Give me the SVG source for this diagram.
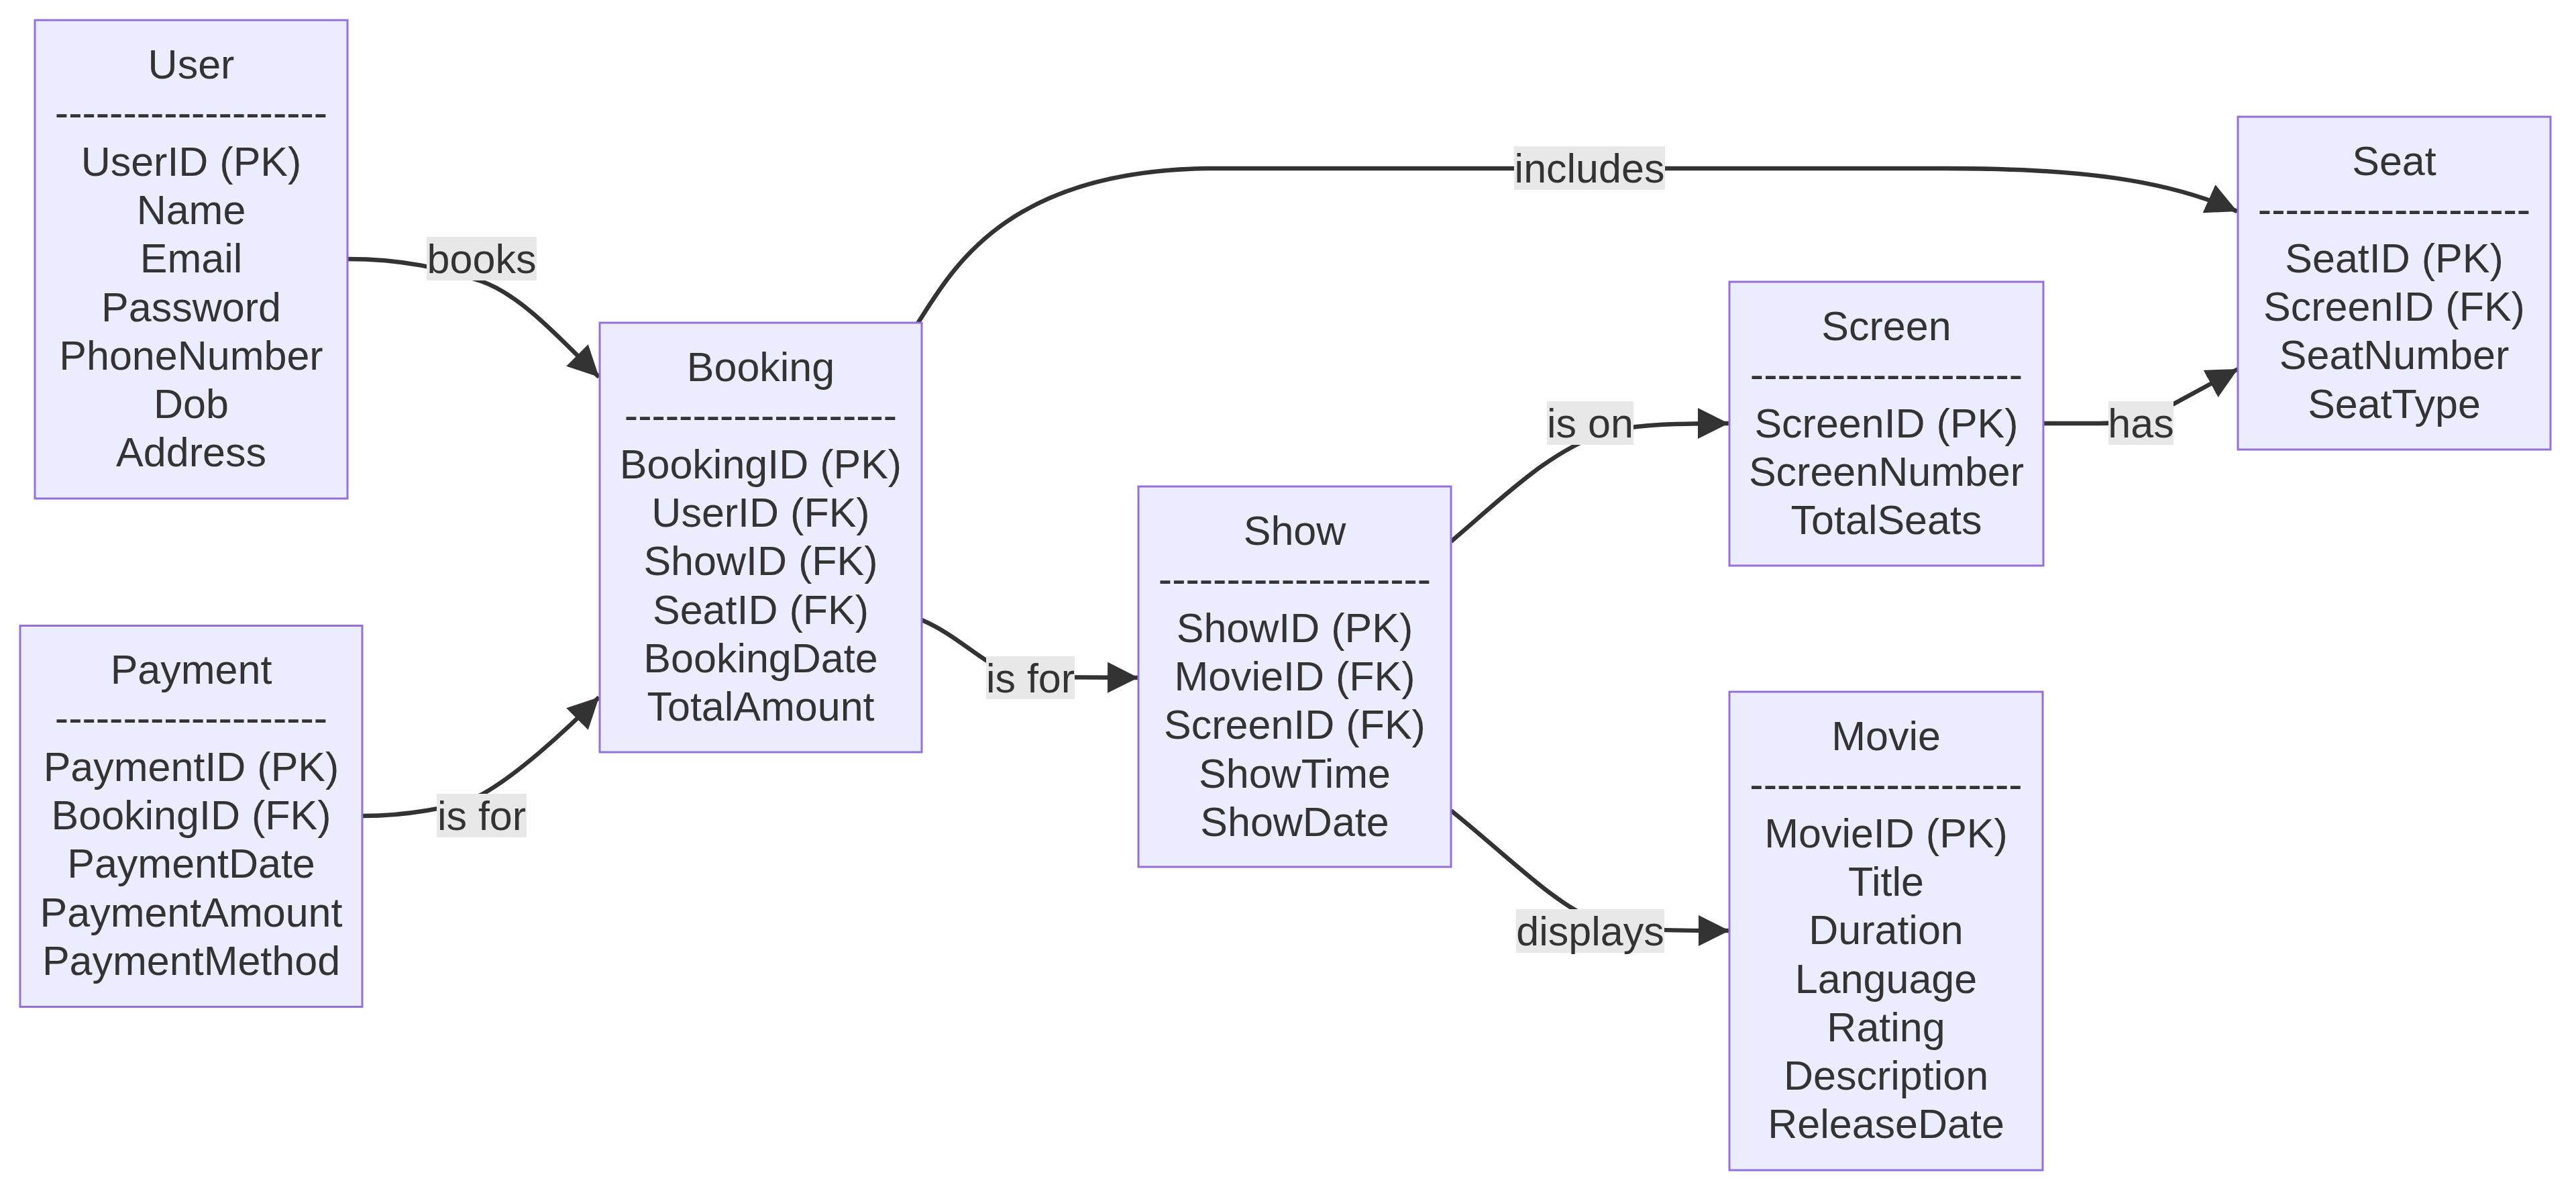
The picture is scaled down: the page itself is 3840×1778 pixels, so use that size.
<svg xmlns="http://www.w3.org/2000/svg" width="3840" height="1778" viewBox="0 0 3840 1778">
<style>
.box{fill:#ECECFF;stroke:#9370DB;stroke-width:3}
.t{font-family:"Liberation Sans",Arial,Helvetica,sans-serif;font-size:61px;fill:#333;text-anchor:middle}
.edge{fill:none;stroke:#333;stroke-width:6.5}
.lbl{fill:#e8e8e8}
</style>
<defs>
<marker id="arrow" viewBox="0 0 10 10" refX="10" refY="5" markerUnits="userSpaceOnUse" markerWidth="46" markerHeight="46" orient="auto">
<path d="M0,0 L10,5 L0,10 z" fill="#333"/>
</marker>
</defs>
<rect width="3840" height="1778" fill="#fff"/>
<g id="connectors">
<path class="edge" marker-end="url(#arrow)" d="M518,386 C600,386 660,400 717,419 C773,438 830,499 893,562" id="e-user-booking"/>
<path class="edge" marker-end="url(#arrow)" d="M540,1216 C600,1216 680,1205 720,1183 C770,1155 838,1094 893,1039" id="e-payment-booking"/>
<path class="edge" marker-end="url(#arrow)" d="M1374,924 C1440,952 1480,1008 1536,1009 L1697,1010" id="e-booking-show"/>
<path class="edge" marker-end="url(#arrow)" d="M1368,482 C1420,400 1500,255 1800,251 L2900,251 C3100,251 3230,268 3335,315" id="e-booking-seat"/>
<path class="edge" marker-end="url(#arrow)" d="M2163,807 C2240,742 2310,670 2400,642 C2450,632 2500,631 2577,631" id="e-show-screen"/>
<path class="edge" marker-end="url(#arrow)" d="M3047,631 L3130,631 C3170,631 3200,622 3240,602 L3336,550" id="e-screen-seat"/>
<path class="edge" marker-end="url(#arrow)" d="M2163,1208 C2250,1278 2320,1350 2380,1372 C2420,1385 2450,1387 2578,1387" id="e-show-movie"/>
<g id="edge-labels">
<rect class="lbl" x="636" y="353" width="164" height="65"/><text class="t" x="718" y="407">books</text>
<rect class="lbl" x="651" y="1183" width="134" height="65"/><text class="t" x="718" y="1237">is for</text>
<rect class="lbl" x="1470" y="978" width="132" height="64"/><text class="t" x="1536" y="1032">is for</text>
<rect class="lbl" x="2257" y="218" width="225" height="65"/><text class="t" x="2369.5" y="272">includes</text>
<rect class="lbl" x="2306" y="598" width="129" height="65"/><text class="t" x="2370.5" y="652">is on</text>
<rect class="lbl" x="3143" y="598" width="97" height="65"/><text class="t" x="3191.5" y="652">has</text>
<rect class="lbl" x="2260" y="1355" width="221" height="65"/><text class="t" x="2370.5" y="1409">displays</text>
</g>
</g>
<g id="User">
<rect class="box" x="52" y="30" width="466" height="713"/>
<text class="t" x="285" y="117">User<tspan x="285" dy="72.3">--------------------</tspan><tspan x="285" dy="72.3">UserID (PK)</tspan><tspan x="285" dy="72.3">Name</tspan><tspan x="285" dy="72.3">Email</tspan><tspan x="285" dy="72.3">Password</tspan><tspan x="285" dy="72.3">PhoneNumber</tspan><tspan x="285" dy="72.3">Dob</tspan><tspan x="285" dy="72.3">Address</tspan></text>
</g>
<g id="Payment">
<rect class="box" x="30" y="932.5" width="510" height="568"/>
<text class="t" x="285" y="1019">Payment<tspan x="285" dy="72.3">--------------------</tspan><tspan x="285" dy="72.3">PaymentID (PK)</tspan><tspan x="285" dy="72.3">BookingID (FK)</tspan><tspan x="285" dy="72.3">PaymentDate</tspan><tspan x="285" dy="72.3">PaymentAmount</tspan><tspan x="285" dy="72.3">PaymentMethod</tspan></text>
</g>
<g id="Booking">
<rect class="box" x="894" y="481" width="480" height="640"/>
<text class="t" x="1134" y="568">Booking<tspan x="1134" dy="72.3">--------------------</tspan><tspan x="1134" dy="72.3">BookingID (PK)</tspan><tspan x="1134" dy="72.3">UserID (FK)</tspan><tspan x="1134" dy="72.3">ShowID (FK)</tspan><tspan x="1134" dy="72.3">SeatID (FK)</tspan><tspan x="1134" dy="72.3">BookingDate</tspan><tspan x="1134" dy="72.3">TotalAmount</tspan></text>
</g>
<g id="Show">
<rect class="box" x="1697" y="725" width="466" height="567"/>
<text class="t" x="1930" y="812">Show<tspan x="1930" dy="72.3">--------------------</tspan><tspan x="1930" dy="72.3">ShowID (PK)</tspan><tspan x="1930" dy="72.3">MovieID (FK)</tspan><tspan x="1930" dy="72.3">ScreenID (FK)</tspan><tspan x="1930" dy="72.3">ShowTime</tspan><tspan x="1930" dy="72.3">ShowDate</tspan></text>
</g>
<g id="Screen">
<rect class="box" x="2578" y="420" width="468" height="423"/>
<text class="t" x="2812" y="507">Screen<tspan x="2812" dy="72.3">--------------------</tspan><tspan x="2812" dy="72.3">ScreenID (PK)</tspan><tspan x="2812" dy="72.3">ScreenNumber</tspan><tspan x="2812" dy="72.3">TotalSeats</tspan></text>
</g>
<g id="Seat">
<rect class="box" x="3336" y="174" width="466" height="496"/>
<text class="t" x="3569" y="261">Seat<tspan x="3569" dy="72.3">--------------------</tspan><tspan x="3569" dy="72.3">SeatID (PK)</tspan><tspan x="3569" dy="72.3">ScreenID (FK)</tspan><tspan x="3569" dy="72.3">SeatNumber</tspan><tspan x="3569" dy="72.3">SeatType</tspan></text>
</g>
<g id="Movie">
<rect class="box" x="2578" y="1031" width="467" height="713"/>
<text class="t" x="2811.5" y="1118">Movie<tspan x="2811.5" dy="72.3">--------------------</tspan><tspan x="2811.5" dy="72.3">MovieID (PK)</tspan><tspan x="2811.5" dy="72.3">Title</tspan><tspan x="2811.5" dy="72.3">Duration</tspan><tspan x="2811.5" dy="72.3">Language</tspan><tspan x="2811.5" dy="72.3">Rating</tspan><tspan x="2811.5" dy="72.3">Description</tspan><tspan x="2811.5" dy="72.3">ReleaseDate</tspan></text>
</g>
</svg>
